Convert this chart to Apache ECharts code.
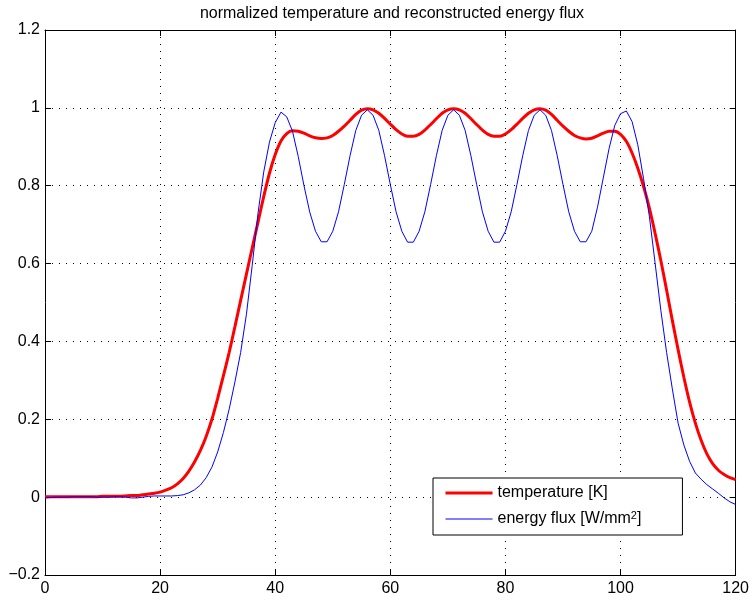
<!DOCTYPE html>
<html>
<head>
<meta charset="utf-8">
<title>normalized temperature and reconstructed energy flux</title>
<script src="https://cdn.jsdelivr.net/npm/echarts@6.0.0/dist/echarts.min.js"></script>
<style>
  html, body { margin: 0; padding: 0; background: #ffffff; }
  #chart { width: 752px; height: 601px; }
</style>
</head>
<body>
<div id="chart"></div>
<script>
// Sample positions along the x axis
const positions = [
  0, 1, 2, 3, 4, 5, 6, 7, 8, 9,
  10, 11, 12, 13, 14, 15, 16, 17, 18, 19,
  20, 21, 22, 23, 24, 25, 26, 27, 28, 29,
  30, 31, 32, 33, 34, 35, 36, 37, 38, 39,
  40, 41, 42, 43, 44, 45, 46, 47, 48, 49,
  50, 51, 52, 53, 54, 55, 56, 57, 58, 59,
  60, 61, 62, 63, 64, 65, 66, 67, 68, 69,
  70, 71, 72, 73, 74, 75, 76, 77, 78, 79,
  80, 81, 82, 83, 84, 85, 86, 87, 88, 89,
  90, 91, 92, 93, 94, 95, 96, 97, 98, 99,
  100, 101, 102, 103, 104, 105, 106, 107, 108, 109,
  110, 111, 112, 113, 114, 115, 116, 117, 118, 119,
  120
];

// Normalized temperature (thick red curve)
const temperature = [
  0.001, 0.001, 0.001, 0.001, 0.001, 0.001, 0.001, 0.001, 0.001, 0.001,
  0.002, 0.002, 0.002, 0.002, 0.003, 0.004, 0.004, 0.006, 0.008, 0.010,
  0.013, 0.018, 0.024, 0.034, 0.048, 0.067, 0.091, 0.120, 0.156, 0.200,
  0.254, 0.312, 0.372, 0.438, 0.506, 0.573, 0.640, 0.706, 0.772, 0.832,
  0.880, 0.915, 0.934, 0.941, 0.940, 0.935, 0.928, 0.923, 0.921, 0.923,
  0.929, 0.940, 0.953, 0.968, 0.983, 0.994, 0.998, 0.995, 0.986, 0.973,
  0.958, 0.944, 0.933, 0.927, 0.927, 0.932, 0.943, 0.957, 0.972, 0.986,
  0.995, 0.998, 0.995, 0.986, 0.972, 0.957, 0.943, 0.932, 0.927, 0.927,
  0.933, 0.944, 0.958, 0.973, 0.986, 0.995, 0.998, 0.994, 0.983, 0.968,
  0.953, 0.940, 0.929, 0.923, 0.920, 0.922, 0.928, 0.935, 0.940, 0.940,
  0.932, 0.914, 0.884, 0.845, 0.798, 0.743, 0.678, 0.608, 0.532, 0.454,
  0.379, 0.308, 0.244, 0.190, 0.146, 0.111, 0.086, 0.069, 0.058, 0.050,
  0.045
];

// Reconstructed energy flux (thin blue curve)
const energyFlux = [
  -0.002, -0.001, 0.000, 0.000, 0.000, 0.001, 0.001, 0.001, 0.001, 0.000,
  0.000, 0.000, 0.001, 0.001, 0.000, -0.002, -0.002, 0.000, 0.002, 0.003,
  0.003, 0.003, 0.003, 0.004, 0.006, 0.011, 0.019, 0.031, 0.050, 0.077,
  0.116, 0.166, 0.226, 0.296, 0.372, 0.470, 0.595, 0.728, 0.835, 0.912,
  0.962, 0.989, 0.977, 0.940, 0.875, 0.800, 0.732, 0.683, 0.656, 0.656,
  0.683, 0.733, 0.803, 0.877, 0.942, 0.981, 0.995, 0.981, 0.942, 0.877,
  0.803, 0.733, 0.683, 0.655, 0.655, 0.683, 0.733, 0.803, 0.877, 0.942,
  0.981, 0.995, 0.981, 0.942, 0.877, 0.803, 0.733, 0.683, 0.655, 0.655,
  0.683, 0.733, 0.803, 0.877, 0.942, 0.981, 0.995, 0.981, 0.942, 0.877,
  0.803, 0.733, 0.683, 0.656, 0.656, 0.683, 0.745, 0.820, 0.895, 0.955,
  0.985, 0.992, 0.965, 0.905, 0.818, 0.722, 0.602, 0.480, 0.372, 0.278,
  0.190, 0.134, 0.092, 0.062, 0.046, 0.032, 0.021, 0.010, -0.002, -0.012,
  -0.019
];

const seriesNames = ['temperature [K]', 'energy flux [W/mm2]'];
const chartTitle = 'normalized temperature and reconstructed energy flux';

// Axis ranges and tick steps
const xRange = [0, 120];
const xStep = 20;
const yRange = [-0.2, 1.2];
const yStep = 0.2;

const FONT = "'Liberation Sans', Arial, Helvetica, sans-serif";

function pairs(values) {
  return positions.map((x, i) => [x, values[i]]);
}

function yLabel(v) {
  const r = Math.round(v * 10) / 10;
  return r < 0 ? '\u2212' + Math.abs(r) : String(r);
}

const dotted = { color: '#000', width: 1, type: [1, 6] };
const frameLine = { show: true, onZero: false, lineStyle: { color: '#000', width: 1 } };
const innerTick = { show: true, inside: true, length: 6, lineStyle: { color: '#000', width: 1 } };

const chart = echarts.init(document.getElementById('chart'), null, { renderer: 'canvas' });

chart.setOption({
  backgroundColor: '#ffffff',
  animation: false,
  title: {
    text: chartTitle,
    left: 392,
    top: 6,
    padding: 0,
    textAlign: 'center',
    textStyle: { fontFamily: FONT, fontSize: 16, fontWeight: 'normal', color: '#000', lineHeight: 16 }
  },
  grid: { left: 45, right: 14, top: 30, bottom: 26, containLabel: false },
  xAxis: [
    {
      type: 'value', position: 'bottom',
      min: xRange[0], max: xRange[1], interval: xStep,
      axisLine: frameLine, axisTick: innerTick,
      axisLabel: { show: true, margin: 6, color: '#000', fontFamily: FONT, fontSize: 16 },
      splitLine: { show: true, lineStyle: dotted }
    },
    {
      type: 'value', position: 'top',
      min: xRange[0], max: xRange[1], interval: xStep,
      axisLine: frameLine, axisTick: innerTick,
      axisLabel: { show: false }, splitLine: { show: false }
    }
  ],
  yAxis: [
    {
      type: 'value', position: 'left',
      min: yRange[0], max: yRange[1], interval: yStep,
      axisLine: frameLine, axisTick: innerTick,
      axisLabel: { show: true, margin: 5, color: '#000', fontFamily: FONT, fontSize: 16, formatter: yLabel },
      splitLine: { show: true, lineStyle: dotted }
    },
    {
      type: 'value', position: 'right',
      min: yRange[0], max: yRange[1], interval: yStep,
      axisLine: frameLine, axisTick: innerTick,
      axisLabel: { show: false }, splitLine: { show: false }
    }
  ],
  legend: {
    orient: 'vertical',
    left: 433,
    top: 478,
    padding: [6, 41, 7, 11],
    itemGap: 8,
    itemWidth: 47,
    itemHeight: 18,
    backgroundColor: '#ffffff',
    borderColor: '#000',
    borderWidth: 1,
    borderRadius: 0,
    selectedMode: false,
    itemStyle: { opacity: 0 },
    lineStyle: { width: 'inherit' },
    formatter: name => name.replace('mm2', 'mm{sup|2}'),
    textStyle: {
      fontFamily: FONT, fontSize: 16, color: '#000', lineHeight: 18,
      rich: {
        sup: { fontFamily: FONT, fontSize: 11, lineHeight: 11, verticalAlign: 'top', color: '#000' }
      }
    },
    data: seriesNames
  },
  series: [
    {
      name: seriesNames[0],
      type: 'line',
      xAxisIndex: 0, yAxisIndex: 0,
      data: pairs(temperature),
      showSymbol: false,
      symbol: 'none',
      smooth: 0.25,
      lineStyle: { color: '#ff0000', width: 3 },
      itemStyle: { color: '#ff0000' },
      z: 2
    },
    {
      name: seriesNames[1],
      type: 'line',
      xAxisIndex: 0, yAxisIndex: 0,
      data: pairs(energyFlux),
      showSymbol: false,
      symbol: 'none',
      lineStyle: { color: '#0000ff', width: 1 },
      itemStyle: { color: '#0000ff' },
      z: 3
    }
  ]
});
</script>
</body>
</html>
